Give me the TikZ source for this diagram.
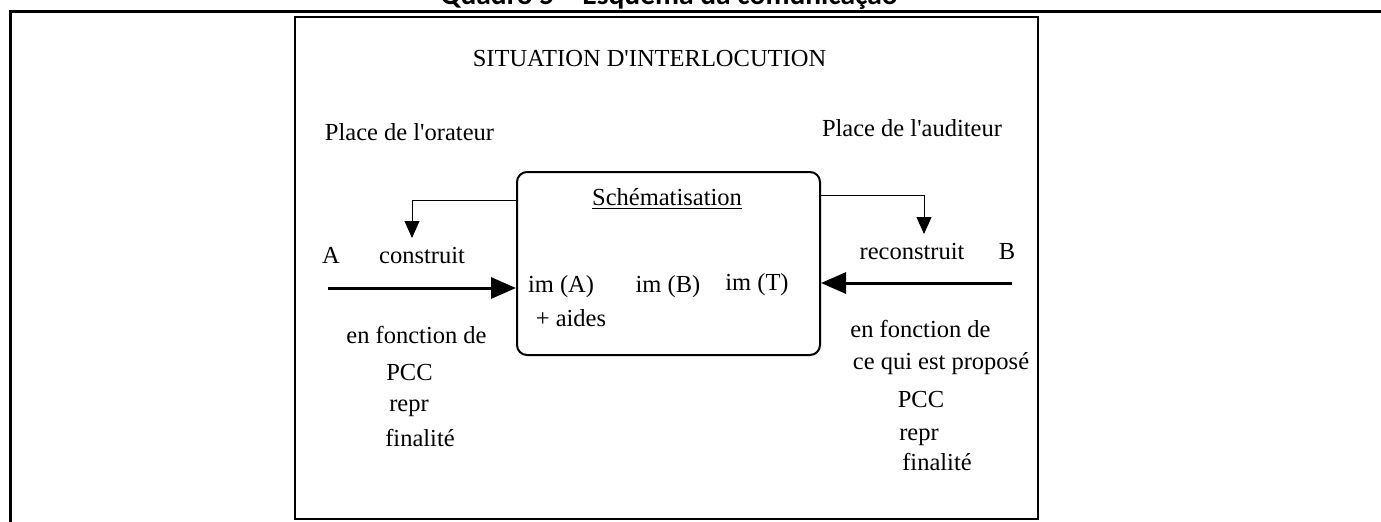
\documentclass[tikz,border=0pt]{standalone}
\usepackage{fontspec}
\setmainfont{Liberation Serif}
\newfontfamily\quadrofont{Carlito}
\usetikzlibrary{arrows.meta}

\tikzset{
    texte/.style={anchor=base, inner sep=0pt},
    grosse/.style={line width=1.5pt, -{Triangle[length=12.5pt,width=10.5pt]}},
    retour/.style={line width=0.5pt, -{Triangle[length=8.5pt,width=7.5pt]}},
}

\begin{document}
\begin{tikzpicture}[x=0.5pt, y=-0.5pt, font=\fontsize{12.25}{14}\selectfont]
    \useasboundingbox (0, 0) rectangle (1381, 521);
    \clip (0, 0) rectangle (1381, 521);

    \node[texte, font=\quadrofont\bfseries\fontsize{14.75}{16}\selectfont]
        (quadro) at (669, 4) {Quadro 5 – Esquema da comunicação};

    \draw[line width=1.5pt]
        (10, 530) -- (10, 11) -- (1390, 11);
    \draw[line width=1.25pt]
        (295, 17) -- (1038, 17) -- (1038, 519) -- (295, 519) -- cycle;

    \node[draw, line width=1pt, rounded corners=5pt,
        minimum width=151.5pt, minimum height=91.5pt]
        (schema) at (668.5, 263.5) {};

    \coordinate (debutA) at (328, 288);
    \coordinate (debutB) at (1012, 283);
    \coordinate (pointeA) at (412, 238);
    \coordinate (pointeB) at (924, 234);

    \draw[grosse]
        (debutA) -- (schema.west |- debutA);
    \draw[grosse]
        (debutB) -- (schema.east |- debutB);
    \draw[retour]
        ([yshift=-14.5pt]schema.north west) -| (pointeA);
    \draw[retour]
        ([yshift=-12pt]schema.north east) -| (pointeB);

    \node[texte] (situation) at (649.5, 66) {SITUATION D\textquotesingle INTERLOCUTION};
    \node[texte] (orateur) at (409.5, 140) {Place de l\textquotesingle orateur};
    \node[texte] (auditeur) at (912, 136) {Place de l\textquotesingle auditeur};
    \node[texte] (schematisation) at (667, 205) {\underline{Schématisation}};

    \node[texte] (A) at (331, 263) {A};
    \node[texte] (construit) at (422, 263) {construit};
    \node[texte] (reconstruit) at (912, 259) {reconstruit};
    \node[texte] (B) at (1007, 259) {B};

    \node[texte] (imA) at (561, 292) {im (A)};
    \node[texte] (imB) at (668, 292) {im (B)};
    \node[texte] (imT) at (757, 290) {im (T)};
    \node[texte] (aides) at (571, 326) {+ aides};

    \node[texte] (fonctionA) at (416.5, 343) {en fonction de};
    \node[texte] (pccA) at (409.5, 380) {PCC};
    \node[texte] (reprA) at (409, 411) {repr};
    \node[texte] (finaliteA) at (420, 446) {finalité};

    \node[texte] (fonctionB) at (920.5, 337) {en fonction de};
    \node[texte] (proposeB) at (941, 369) {ce qui est proposé};
    \node[texte] (pccB) at (921, 407) {PCC};
    \node[texte] (reprB) at (919, 440) {repr};
    \node[texte] (finaliteB) at (937, 470) {finalité};
\end{tikzpicture}
\end{document}
